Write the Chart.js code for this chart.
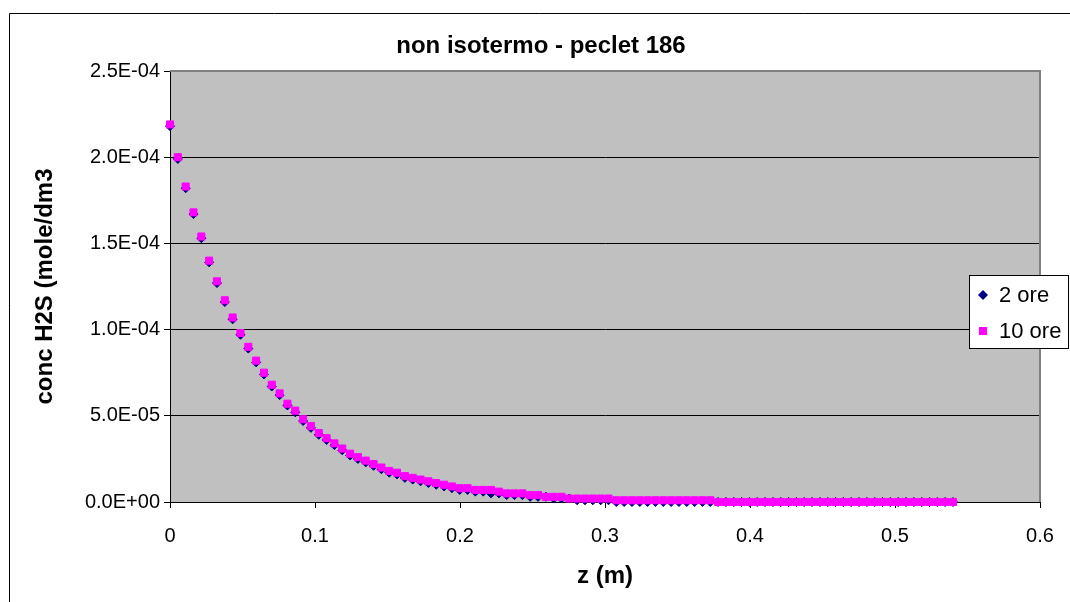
<!DOCTYPE html>
<html>
<head>
<meta charset="utf-8">
<title>non isotermo - peclet 186</title>
<script src="https://cdn.jsdelivr.net/npm/chart.js"></script>
<style>
  html, body { margin: 0; padding: 0; background: #fff; }
  #wrap { position: relative; width: 1070px; height: 602px; }
</style>
</head>
<body>
<div id="wrap"><canvas id="chart" width="1070" height="602"></canvas></div>
<script>
// z (m): 101 stations, every 0.0054 m
const zValues = [
  0.0000, 0.0054, 0.0108, 0.0162, 0.0216, 0.0270, 0.0324, 0.0378, 0.0432, 0.0486,
  0.0540, 0.0594, 0.0648, 0.0702, 0.0756, 0.0810, 0.0864, 0.0918, 0.0972, 0.1026,
  0.1080, 0.1134, 0.1188, 0.1242, 0.1296, 0.1350, 0.1404, 0.1458, 0.1512, 0.1566,
  0.1620, 0.1674, 0.1728, 0.1782, 0.1836, 0.1890, 0.1944, 0.1998, 0.2052, 0.2106,
  0.2160, 0.2214, 0.2268, 0.2322, 0.2376, 0.2430, 0.2484, 0.2538, 0.2592, 0.2646,
  0.2700, 0.2754, 0.2808, 0.2862, 0.2916, 0.2970, 0.3024, 0.3078, 0.3132, 0.3186,
  0.3240, 0.3294, 0.3348, 0.3402, 0.3456, 0.3510, 0.3564, 0.3618, 0.3672, 0.3726,
  0.3780, 0.3834, 0.3888, 0.3942, 0.3996, 0.4050, 0.4104, 0.4158, 0.4212, 0.4266,
  0.4320, 0.4374, 0.4428, 0.4482, 0.4536, 0.4590, 0.4644, 0.4698, 0.4752, 0.4806,
  0.4860, 0.4914, 0.4968, 0.5022, 0.5076, 0.5130, 0.5184, 0.5238, 0.5292, 0.5346,
  0.5400
];

// conc H2S (mole/dm3), 2 ore
const conc2ore = [
  2.18e-4, 1.99e-4, 1.82e-4, 1.67e-4, 1.53e-4, 1.39e-4, 1.27e-4, 1.16e-4, 1.06e-4, 9.7e-5,
  8.9e-5, 8.1e-5, 7.4e-5, 6.7e-5, 6.2e-5, 5.6e-5, 5.2e-5, 4.7e-5, 4.3e-5, 3.9e-5,
  3.6e-5, 3.3e-5, 3.0e-5, 2.7e-5, 2.5e-5, 2.3e-5, 2.1e-5, 1.9e-5, 1.7e-5, 1.6e-5,
  1.4e-5, 1.3e-5, 1.2e-5, 1.1e-5, 1.0e-5, 9e-6, 8e-6, 7e-6, 7e-6, 6e-6,
  6e-6, 5e-6, 5e-6, 4e-6, 4e-6, 4e-6, 3e-6, 3e-6, 3e-6, 2e-6,
  2e-6, 2e-6, 1e-6, 1e-6, 1e-6, 1e-6, 1e-6, 0, 0, 0,
  0, 0, 0, 0, 0, 0, 0, 0, 0, 0,
  0, 0, 0, 0, 0, 0, 0, 0, 0, 0,
  0, 0, 0, 0, 0, 0, 0, 0, 0, 0,
  0, 0, 0, 0, 0, 0, 0, 0, 0, 0,
  0
];

// conc H2S (mole/dm3), 10 ore
const conc10ore = [
  2.19e-4, 2.00e-4, 1.83e-4, 1.68e-4, 1.54e-4, 1.40e-4, 1.28e-4, 1.17e-4, 1.07e-4, 9.8e-5,
  9.0e-5, 8.2e-5, 7.5e-5, 6.8e-5, 6.3e-5, 5.7e-5, 5.3e-5, 4.8e-5, 4.4e-5, 4.0e-5,
  3.7e-5, 3.4e-5, 3.1e-5, 2.8e-5, 2.6e-5, 2.4e-5, 2.2e-5, 2.0e-5, 1.8e-5, 1.7e-5,
  1.5e-5, 1.4e-5, 1.3e-5, 1.2e-5, 1.1e-5, 1.0e-5, 9e-6, 8e-6, 8e-6, 7e-6,
  7e-6, 7e-6, 6e-6, 5e-6, 5e-6, 5e-6, 4e-6, 4e-6, 3e-6, 3e-6,
  3e-6, 2e-6, 2e-6, 2e-6, 2e-6, 2e-6, 2e-6, 1e-6, 1e-6, 1e-6,
  1e-6, 1e-6, 1e-6, 1e-6, 1e-6, 1e-6, 1e-6, 1e-6, 1e-6, 1e-6,
  0, 0, 0, 0, 0, 0, 0, 0, 0, 0,
  0, 0, 0, 0, 0, 0, 0, 0, 0, 0,
  0, 0, 0, 0, 0, 0, 0, 0, 0, 0,
  0
];

const seriesNames = ["2 ore", "10 ore"];
const xTicks = [0, 0.1, 0.2, 0.3, 0.4, 0.5, 0.6];
const yTicks = [0, 5e-5, 1e-4, 1.5e-4, 2e-4, 2.5e-4];

const FONT = "'Liberation Sans', Arial, sans-serif";
const NAVY = "#000080";
const MAGENTA = "#FF00FF";

function toPoints(xs, ys) {
  return xs.map(function (x, i) { return { x: x, y: ys[i] }; });
}

// 2.5E-04 style labels
function sci(v) {
  if (Math.abs(v) < 1e-12) return "0.0E+00";
  var parts = v.toExponential(1).toUpperCase().split("E");
  var exp = parseInt(parts[1], 10);
  var sign = exp < 0 ? "-" : "+";
  var e = String(Math.abs(exp));
  if (e.length < 2) e = "0" + e;
  return parts[0] + "E" + sign + e;
}

// excel-ish frame: outer border, grey plot area, title, boxed legend
const excelFrame = {
  id: "excelFrame",
  beforeDraw: function (chart) {
    var ctx = chart.ctx;
    var a = chart.chartArea;
    ctx.save();
    ctx.strokeStyle = "#000";
    ctx.lineWidth = 1;
    ctx.beginPath();
    ctx.moveTo(9.5, 602);
    ctx.lineTo(9.5, 13.5);
    ctx.lineTo(1070, 13.5);
    ctx.stroke();
    ctx.fillStyle = "#C0C0C0";
    ctx.fillRect(a.left, a.top, a.right - a.left, a.bottom - a.top);
    ctx.fillStyle = "#000";
    ctx.font = "bold 24px " + FONT;
    ctx.textAlign = "center";
    ctx.textBaseline = "middle";
    ctx.fillText("non isotermo - peclet 186", 541, 46);
    ctx.restore();
  },
  beforeDatasetsDraw: function (chart) {
    var ctx = chart.ctx;
    var a = chart.chartArea;
    ctx.save();
    ctx.strokeStyle = "#808080";
    ctx.lineWidth = 2;
    ctx.beginPath();
    ctx.moveTo(a.left, a.top);
    ctx.lineTo(a.right, a.top);
    ctx.lineTo(a.right, a.bottom);
    ctx.stroke();
    ctx.restore();
  },
  afterDraw: function (chart) {
    var ctx = chart.ctx;
    ctx.save();
    ctx.fillStyle = "#fff";
    ctx.fillRect(969.5, 275.5, 99, 73);
    ctx.strokeStyle = "#000";
    ctx.lineWidth = 1;
    ctx.strokeRect(969.5, 275.5, 99, 73);
    // diamond
    ctx.fillStyle = NAVY;
    ctx.beginPath();
    ctx.moveTo(983, 290);
    ctx.lineTo(988, 295);
    ctx.lineTo(983, 300);
    ctx.lineTo(978, 295);
    ctx.closePath();
    ctx.fill();
    // square
    ctx.fillStyle = MAGENTA;
    ctx.fillRect(979, 327, 8, 8);
    ctx.fillStyle = "#000";
    ctx.font = "22px " + FONT;
    ctx.textAlign = "left";
    ctx.textBaseline = "middle";
    ctx.fillText(seriesNames[0], 999, 296);
    ctx.fillText(seriesNames[1], 999, 332);
    ctx.restore();
  }
};

const ctx = document.getElementById("chart").getContext("2d");
const chart = new Chart(ctx, {
  type: "scatter",
  data: {
    datasets: [
      {
        label: seriesNames[0],
        data: toPoints(zValues, conc2ore),
        pointStyle: "rectRot",
        pointRadius: 4.5,
        borderWidth: 1,
        backgroundColor: NAVY,
        borderColor: NAVY,
        order: 1,
        clip: false
      },
      {
        label: seriesNames[1],
        data: toPoints(zValues, conc10ore),
        pointStyle: "rect",
        pointRadius: 5,
        borderWidth: 1,
        backgroundColor: MAGENTA,
        borderColor: MAGENTA,
        order: 0,
        clip: false
      }
    ]
  },
  options: {
    responsive: false,
    devicePixelRatio: 1,
    animation: false,
    layout: { padding: { left: 0, top: 71, right: 30, bottom: 0 } },
    plugins: {
      legend: { display: false },
      title: { display: false },
      tooltip: { enabled: false }
    },
    scales: {
      x: {
        type: "linear",
        min: 0,
        max: 0.6,
        afterFit: function (s) { s.height = 100; },
        afterBuildTicks: function (s) { s.ticks = xTicks.map(function (v) { return { value: v }; }); },
        ticks: {
          color: "#000",
          font: { family: FONT, size: 20 },
          padding: 16,
          maxRotation: 0,
          callback: function (v) { return String(Math.round(v * 10) / 10); }
        },
        grid: { drawOnChartArea: false, drawTicks: true, tickLength: 6, tickColor: "#000" },
        border: { display: true, color: "#000", width: 1 },
        title: {
          display: true,
          text: "z (m)",
          color: "#000",
          font: { family: FONT, size: 24, weight: "bold" },
          padding: { top: 0, bottom: 11 }
        }
      },
      y: {
        type: "linear",
        min: 0,
        max: 2.5e-4,
        afterFit: function (s) { s.width = 170; },
        afterBuildTicks: function (s) { s.ticks = yTicks.map(function (v) { return { value: v }; }); },
        ticks: {
          color: "#000",
          font: { family: FONT, size: 20 },
          padding: 4,
          callback: function (v) { return sci(v); }
        },
        grid: { color: "#000", lineWidth: 1, drawTicks: true, tickLength: 6, tickColor: "#000" },
        border: { display: true, color: "#000", width: 1 },
        title: {
          display: true,
          text: "conc H2S (mole/dm3",
          color: "#000",
          font: { family: FONT, size: 24, weight: "bold" },
          padding: { top: 31, bottom: 0 }
        }
      }
    }
  },
  plugins: [excelFrame]
});
</script>
</body>
</html>
